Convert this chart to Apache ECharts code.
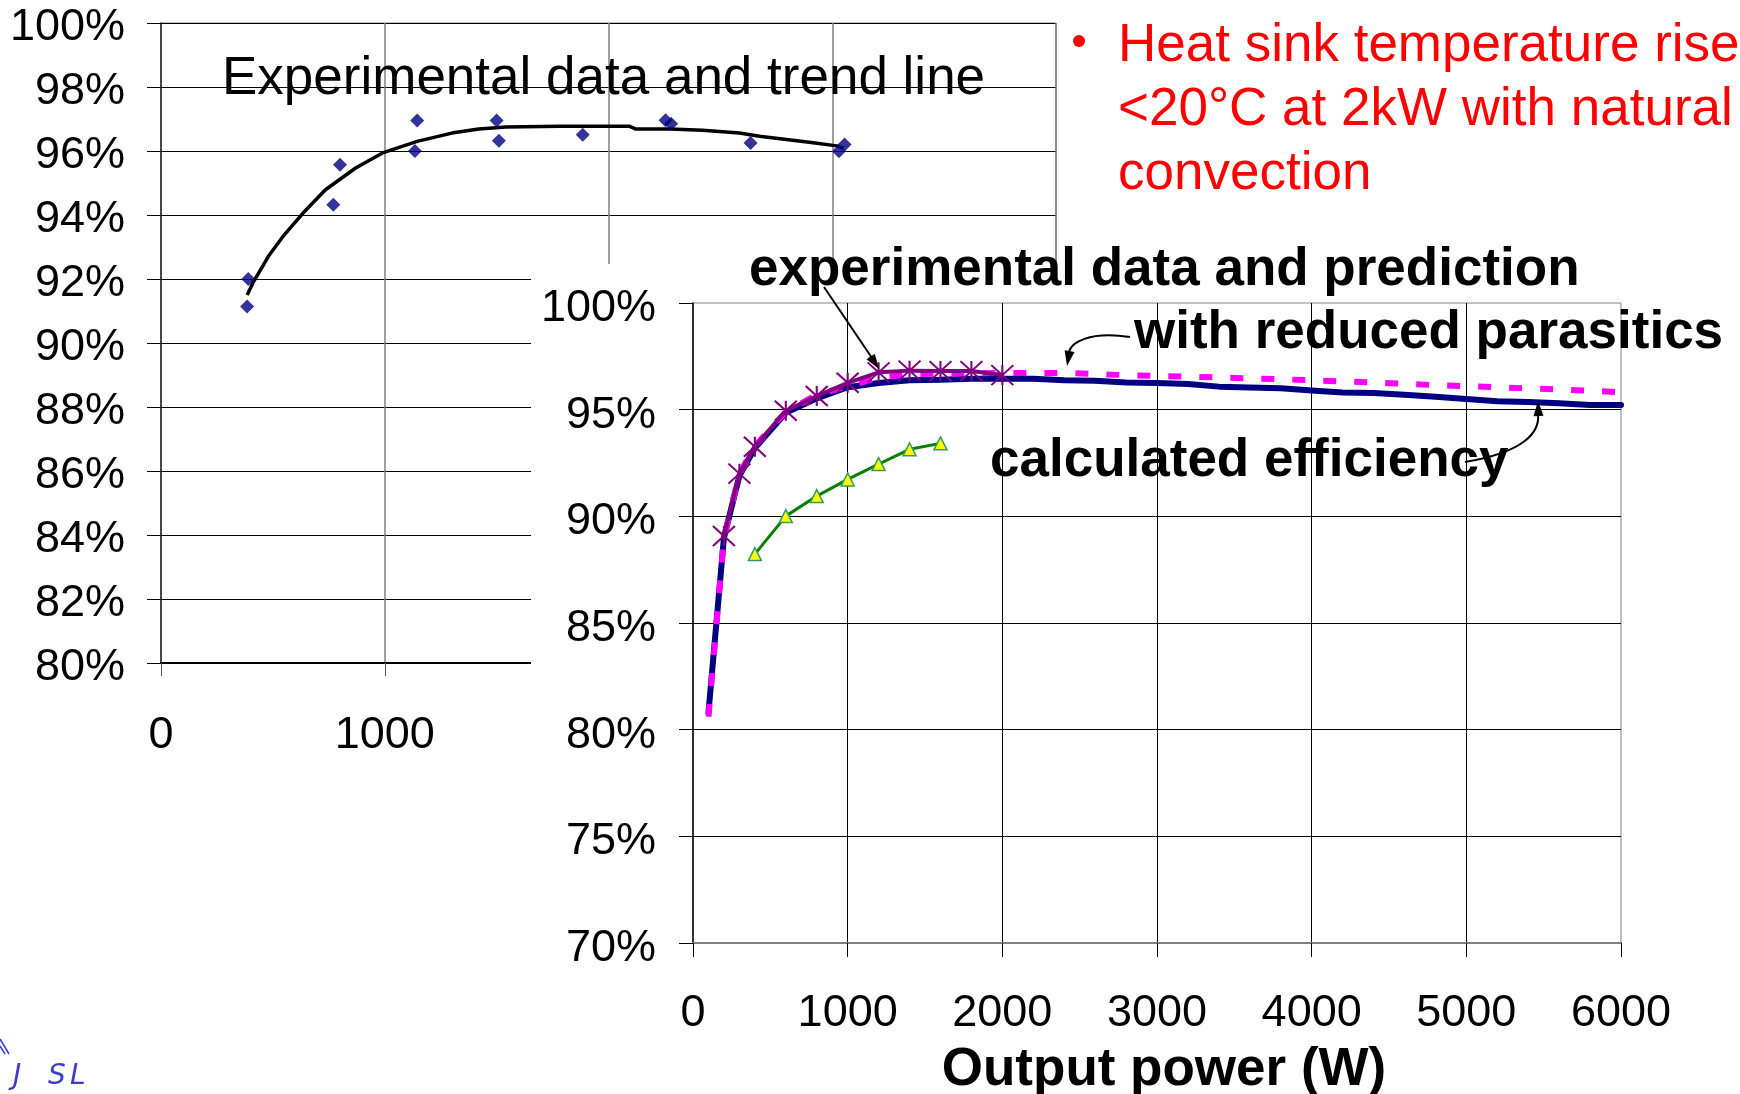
<!DOCTYPE html>
<html>
<head>
<meta charset="utf-8">
<script src="https://cdn.jsdelivr.net/npm/echarts@6/dist/echarts.min.js"></script>
<style>
  html, body { margin: 0; padding: 0; background: #fff; }
  #chart { width: 1740px; height: 1094px; }
</style>
</head>
<body>
<div id="chart"></div>
<script>
// background chart: measured points and trend line (efficiency in %)
const leftExpW   = [385, 390, 770, 800, 1135, 1145, 1500, 1510, 1885, 2255, 2280, 2635, 3030, 3055];
const leftExpEff = [91.14, 92.0, 94.32, 95.57, 96.0, 96.95, 96.95, 96.32, 96.51, 96.96, 96.85, 96.25, 95.99, 96.2];

const leftTrendW   = [385, 410, 480, 545, 635, 735, 870, 990, 1145, 1300, 1420, 1540, 1785, 2095, 2120, 2275, 2420, 2585, 2675, 2795, 2915, 3020, 3050];
const leftTrendEff = [91.5, 91.87, 92.71, 93.33, 94.06, 94.79, 95.47, 95.94, 96.3, 96.56, 96.69, 96.75, 96.77, 96.77, 96.69, 96.69, 96.65, 96.56, 96.46, 96.36, 96.26, 96.16, 96.08];

const leftYTicks = [80, 100, 2];   // min, max, step
const leftXTicks = [0, 4000, 1000];

// front chart
const calcW   = [100, 200, 300, 400, 600, 800, 1000, 1200, 1400, 1600, 1800, 2000, 2200, 2400, 2600, 2800, 3000, 3200, 3400, 3600, 3800, 4000, 4200, 4400, 4600, 4800, 5000, 5200, 5400, 5600, 5800, 6000];
const calcEff = [80.8, 89.0, 91.9, 93.2, 94.85, 95.53, 96.05, 96.25, 96.38, 96.4, 96.45, 96.45, 96.45, 96.38, 96.35, 96.27, 96.25, 96.2, 96.08, 96.04, 96.0, 95.9, 95.8, 95.78, 95.7, 95.6, 95.5, 95.4, 95.36, 95.3, 95.22, 95.22];

const reducedW   = [100, 200, 300, 400, 600, 800, 1000, 1200, 1400, 1600, 1800, 2000, 2400, 2800, 3200, 3600, 4000, 4400, 4800, 5200, 5600, 6000];
const reducedEff = [80.6, 89.0, 92.0, 93.3, 94.9, 95.7, 96.1, 96.5, 96.65, 96.7, 96.7, 96.72, 96.72, 96.62, 96.55, 96.47, 96.38, 96.27, 96.15, 96.05, 95.95, 95.82];

const measW   = [200, 300, 400, 600, 800, 1000, 1200, 1400, 1600, 1800, 2000];
const measEff = [89.08, 92.0, 93.26, 94.95, 95.64, 96.26, 96.75, 96.83, 96.81, 96.81, 96.62];

const greenW   = [400, 600, 800, 1000, 1200, 1400, 1600];
const greenEff = [88.23, 90.01, 90.95, 91.73, 92.45, 93.14, 93.42];

const innerYTicks = [70, 100, 5];
const innerXTicks = [0, 6000, 1000];

const noteLines = ['Heat sink temperature rise', '<20\u00B0C at 2kW with natural', 'convection'];

const FONT = '"Liberation Sans", Arial, Helvetica, sans-serif';
const pairs = (xs, ys) => xs.map((x, i) => [x, ys[i]]);

function arrowHead(x1, y1, x2, y2, len, half) {
  const dx = x2 - x1, dy = y2 - y1;
  const d = Math.hypot(dx, dy);
  const ux = dx / d, uy = dy / d;
  const bx = x2 - ux * len, by = y2 - uy * len;
  return {
    type: 'polygon', z: 10,
    shape: { points: [[x2, y2], [bx - uy * half, by + ux * half], [bx + uy * half, by - ux * half]] },
    style: { fill: '#000' }
  };
}

const labelStyle = { color: '#000', fontSize: 45, fontFamily: FONT };
const plain = v => String(v);
// a thin empty first line nudges the percent labels slightly below their tick
const pct = v => '{s| }\n' + v + '%';

const chart = echarts.init(document.getElementById('chart'));
chart.setOption({
  animation: false,
  backgroundColor: '#fff',
  grid: [
    { left: 161, top: 23, right: 684, bottom: 431, z: 0, show: true, borderColor: '#808080', borderWidth: 1, containLabel: false, outerBoundsMode: 'none' },
    { left: 693, top: 303, right: 119, bottom: 151, z: 4, show: true, borderColor: '#808080', borderWidth: 1, containLabel: false, outerBoundsMode: 'none' }
  ],
  xAxis: [
    {
      gridIndex: 0, type: 'value', min: leftXTicks[0], max: leftXTicks[1], interval: leftXTicks[2], z: 0,
      axisLine: { show: true, onZero: false, lineStyle: { color: '#000', width: 2 } },
      axisTick: { show: true, length: 13, lineStyle: { color: '#555', width: 1 } },
      axisLabel: Object.assign({ margin: 50, formatter: plain }, labelStyle),
      splitLine: { show: true, showMinLine: false, lineStyle: { color: '#808080', width: 1.5 } }
    },
    {
      gridIndex: 1, type: 'value', min: innerXTicks[0], max: innerXTicks[1], interval: innerXTicks[2], z: 4,
      axisLine: { show: true, onZero: false, lineStyle: { color: '#808080', width: 2 } },
      axisTick: { show: true, length: 14, lineStyle: { color: '#000', width: 1 } },
      axisLabel: Object.assign({ margin: 48, formatter: plain }, labelStyle),
      splitLine: { show: true, showMinLine: false, showMaxLine: false, lineStyle: { color: '#000', width: 1 } },
      name: 'Output power (W)', nameLocation: 'middle', nameGap: 101,
      nameTextStyle: { color: '#000', fontSize: 53, fontWeight: 'bold', fontFamily: FONT, padding: [0, 0, 0, 14] }
    }
  ],
  yAxis: [
    {
      gridIndex: 0, type: 'value', min: leftYTicks[0], max: leftYTicks[1], interval: leftYTicks[2], z: 0,
      axisLine: { show: true, onZero: false, lineStyle: { color: '#222', width: 1.5 } },
      axisTick: { show: true, length: 14, lineStyle: { color: '#000', width: 1 } },
      axisLabel: Object.assign({ margin: 36, formatter: pct, rich: { s: { fontSize: 2, height: 9, lineHeight: 9 } } }, labelStyle),
      splitLine: { show: true, showMinLine: false, lineStyle: { color: '#000', width: 1 } }
    },
    {
      gridIndex: 1, type: 'value', min: innerYTicks[0], max: innerYTicks[1], interval: innerYTicks[2], z: 4,
      axisLine: { show: true, onZero: false, lineStyle: { color: '#000', width: 1.5 } },
      axisTick: { show: true, length: 14, lineStyle: { color: '#000', width: 1 } },
      axisLabel: Object.assign({ margin: 37, formatter: pct, rich: { s: { fontSize: 2, height: 11, lineHeight: 11 } } }, labelStyle),
      splitLine: { show: true, showMinLine: false, showMaxLine: false, lineStyle: { color: '#000', width: 1 } }
    }
  ],
  series: [
    {
      type: 'line', xAxisIndex: 0, yAxisIndex: 0, z: 1, data: pairs(leftTrendW, leftTrendEff),
      showSymbol: false, lineStyle: { color: '#000', width: 3.5 }, silent: true
    },
    {
      type: 'scatter', xAxisIndex: 0, yAxisIndex: 0, z: 1, data: pairs(leftExpW, leftExpEff),
      symbol: 'diamond', symbolSize: 14, itemStyle: { color: '#000080' }, silent: true
    },
    {
      type: 'line', xAxisIndex: 1, yAxisIndex: 1, z: 5, data: pairs(calcW, calcEff),
      showSymbol: false, lineStyle: { color: '#000080', width: 6, cap: 'round' }, silent: true
    },
    {
      type: 'line', xAxisIndex: 1, yAxisIndex: 1, z: 6, data: pairs(reducedW, reducedEff),
      showSymbol: false, lineStyle: { color: '#FF00FF', width: 6, type: [13, 18] }, silent: true
    },
    {
      type: 'line', xAxisIndex: 1, yAxisIndex: 1, z: 7, data: pairs(measW, measEff),
      symbol: 'path://M0,0L20,20M20,0L0,20M10,0L10,20', symbolSize: [22, 20], showSymbol: true,
      lineStyle: { color: '#800080', width: 4 },
      itemStyle: { color: 'rgba(0,0,0,0)', borderColor: '#800080', borderWidth: 2 }, silent: true
    },
    {
      type: 'line', xAxisIndex: 1, yAxisIndex: 1, z: 7, data: pairs(greenW, greenEff),
      symbol: 'triangle', symbolSize: 13, showSymbol: true,
      lineStyle: { color: '#008000', width: 3 },
      itemStyle: { color: '#FFFF00', borderColor: '#339966', borderWidth: 1.5 }, silent: true
    }
  ],
  graphic: [
    // white panel of the front chart covering the background chart
    { type: 'rect', z: 3, shape: { x: 531, y: 264, width: 1209, height: 830 }, style: { fill: '#fff' } },

    { type: 'text', z: 10, x: 222, y: 79.5, style: { text: 'Experimental data and trend line', fill: '#000', fontSize: 53, fontFamily: FONT, verticalAlign: 'middle' } },

    { type: 'circle', z: 10, shape: { cx: 1079, cy: 41, r: 6 }, style: { fill: '#FF0000' } },
    { type: 'text', z: 10, x: 1118, y: 46.5, style: { text: noteLines[0], fill: '#FF0000', fontSize: 53, fontFamily: FONT, verticalAlign: 'middle' } },
    { type: 'text', z: 10, x: 1118, y: 110.5, style: { text: noteLines[1], fill: '#FF0000', fontSize: 53, fontFamily: FONT, verticalAlign: 'middle' } },
    { type: 'text', z: 10, x: 1118, y: 174.5, style: { text: noteLines[2], fill: '#FF0000', fontSize: 53, fontFamily: FONT, verticalAlign: 'middle' } },

    { type: 'text', z: 10, x: 749, y: 270.5, style: { text: 'experimental data and prediction', fill: '#000', fontSize: 53, fontWeight: 'bold', fontFamily: FONT, verticalAlign: 'middle' } },
    { type: 'text', z: 10, x: 1134, y: 333.5, style: { text: 'with reduced parasitics', fill: '#000', fontSize: 53, fontWeight: 'bold', fontFamily: FONT, verticalAlign: 'middle' } },
    { type: 'text', z: 10, x: 990, y: 461.5, style: { text: 'calculated efficiency', fill: '#000', fontSize: 53, fontWeight: 'bold', fontFamily: FONT, verticalAlign: 'middle' } },

    { type: 'line', z: 10, shape: { x1: 824, y1: 287, x2: 872, y2: 358 }, style: { stroke: '#000', lineWidth: 2 } },
    arrowHead(824, 287, 879, 369, 15, 5),
    { type: 'bezierCurve', z: 10, shape: { x1: 1130, y1: 337, cpx1: 1088, cpy1: 331, cpx2: 1071, cpy2: 343, x2: 1069, y2: 352 }, style: { stroke: '#000', lineWidth: 2, fill: null } },
    arrowHead(1071, 343, 1067, 366, 15, 5),
    { type: 'bezierCurve', z: 10, shape: { x1: 1465, y1: 462, cpx1: 1525, cpy1: 452, cpx2: 1540, cpy2: 432, x2: 1538, y2: 414 }, style: { stroke: '#000', lineWidth: 2, fill: null } },
    arrowHead(1539, 430, 1538, 401, 15, 5),

    { type: 'polyline', z: 10, shape: { points: [[0, 1039], [9, 1054]] }, style: { stroke: '#3c3ccc', lineWidth: 1.5 } },
    { type: 'polyline', z: 10, shape: { points: [[0, 1046], [5, 1054]] }, style: { stroke: '#3c3ccc', lineWidth: 1.5 } },
    { type: 'text', z: 10, x: 13, y: 1077, style: { text: 'J', fill: '#3c3ccc', fontSize: 28, fontStyle: 'italic', fontFamily: '"DejaVu Sans", sans-serif', verticalAlign: 'middle' } },
    { type: 'text', z: 10, x: 48, y: 1077, style: { text: 'S', fill: '#3c3ccc', fontSize: 28, fontStyle: 'italic', fontFamily: '"DejaVu Sans", sans-serif', verticalAlign: 'middle' } },
    { type: 'text', z: 10, x: 70, y: 1077, style: { text: 'L', fill: '#3c3ccc', fontSize: 28, fontStyle: 'italic', fontFamily: '"DejaVu Sans", sans-serif', verticalAlign: 'middle' } }
  ]
});
</script>
</body>
</html>
